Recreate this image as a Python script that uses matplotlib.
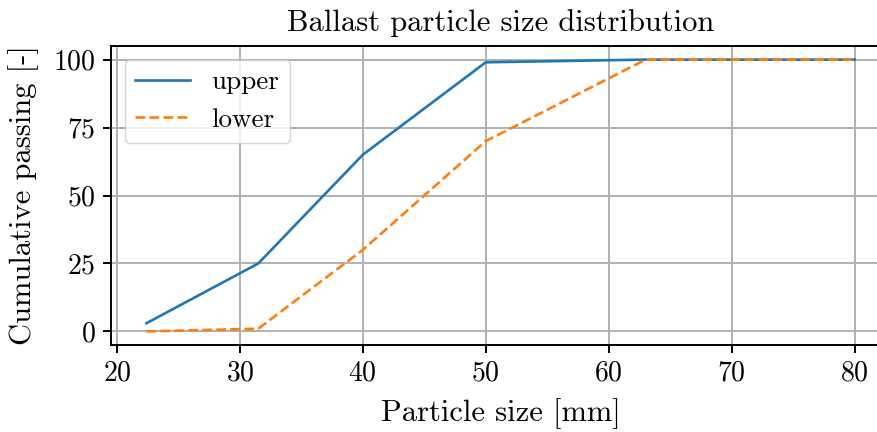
import matplotlib
matplotlib.use("Agg")
import matplotlib.pyplot as plt

plt.rcParams['font.family'] = ['cmr10', 'DejaVu Serif']
plt.rcParams['mathtext.fontset'] = 'cm'
plt.rcParams['axes.formatter.use_mathtext'] = True

sizes = [22.4, 31.5, 40, 50, 63, 80]
upper = [3, 25, 65, 99, 100, 100]
lower = [0, 1, 30, 70, 100, 100]
xticks = [20, 30, 40, 50, 60, 70, 80]
yticks = [0, 25, 50, 75, 100]

fig = plt.figure(figsize=(8.78, 4.32), dpi=100)
ax = fig.add_axes([111/878, 1-345/432, (890-111)/878, (345-46)/432])
ax.plot(sizes, upper, color='#1f77b4', lw=1.9, label='upper')
ax.plot(sizes, lower, color='#ff7f0e', lw=1.9, ls='--', label='lower')
ax.set_xticks(xticks)
ax.set_yticks(yticks)
ax.grid(True, color='#b0b0b0', lw=1.4)
ax.set_axisbelow(True)
for s in ax.spines.values():
    s.set_linewidth(1.4)
ax.tick_params(labelsize=20, width=1.4, length=6, pad=5)
ax.set_xlabel('Particle size [mm]', fontsize=22, labelpad=8)
ax.set_ylabel('Cumulative passing [-]', fontsize=22, labelpad=10)
ax.set_title('Ballast particle size distribution', fontsize=22, pad=11)
ax.legend(loc='upper left', fontsize=19.5, handlelength=2.0, borderpad=0.4, labelspacing=0.5)
fig.savefig('out.png', dpi=100)
